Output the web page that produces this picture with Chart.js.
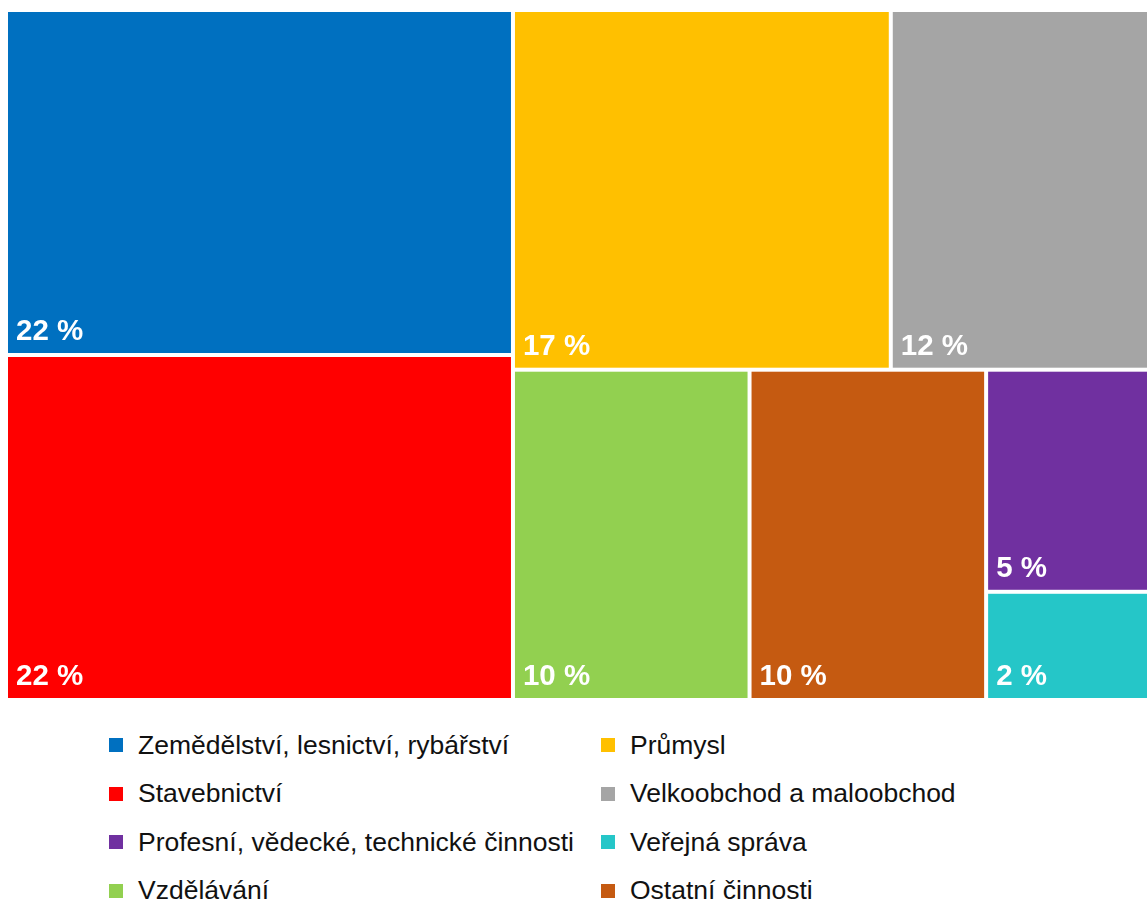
<!DOCTYPE html>
<html lang="cs">
<head>
<meta charset="utf-8">
<script src="https://cdn.jsdelivr.net/npm/chart.js@4.4.1/dist/chart.umd.min.js"></script>
<style>
  body { margin: 0; background: #fff; font-family: "Liberation Sans", Arial, sans-serif; }
  #wrap { position: absolute; left: 0; top: 0; width: 1147px; height: 710px; }
  #legend {
    position: absolute; left: 109px; top: 721px;
    display: grid; grid-template-columns: 492px auto; grid-auto-rows: 48.5px;
    font-size: 26.5px; color: #111;
  }
  .item { display: flex; align-items: center; white-space: nowrap; }
  .box { width: 14px; height: 14px; margin-right: 15px; flex: none; }
</style>
</head>
<body>
<div id="wrap"><canvas id="treemap"></canvas></div>
<div id="legend"></div>
<script>
// =========================
// DATA
// =========================
const categories = [
  "Zemědělství, lesnictví, rybářství",
  "Stavebnictví",
  "Průmysl",
  "Velkoobchod a maloobchod",
  "Vzdělávání",
  "Ostatní činnosti",
  "Profesní, vědecké, technické činnosti",
  "Veřejná správa",
];
const shares = [22.3, 22.3, 17.4, 11.8, 10.0, 10.0, 4.6, 2.2];
const colors = ["#0070C0", "#FF0000", "#FFC000", "#A5A5A5", "#92D050", "#C55A11", "#7030A0", "#25C6C8"];
// legend is read row by row, two columns
const legendOrder = [0, 2, 1, 3, 6, 7, 4, 5];

const GAP = 4;

// =========================
// SQUARIFY LAYOUT (unit square, ratios in pixels)
// =========================
function squarify(values, W, H) {
  const total = values.reduce((s, v) => s + v, 0);
  let items = values
    .map((v, i) => ({ i, a: v / total }))
    .sort((p, q) => q.a - p.a);
  let r = { x: 0, y: 0, w: 1, h: 1 };
  const out = [];

  while (items.length) {
    const vertical = r.w * W >= r.h * H;
    const side = vertical ? r.h * H : r.w * W;
    const worst = (row) => {
      const s = row.reduce((t, it) => t + it.a, 0) * W * H;
      const thick = s / side;
      return Math.max(...row.map((it) => {
        const len = (it.a * W * H) / thick;
        return Math.max(thick / len, len / thick);
      }));
    };

    const row = [items[0]];
    let k = 1;
    while (k < items.length && worst([...row, items[k]]) <= worst(row)) {
      row.push(items[k]);
      k++;
    }

    const rowArea = row.reduce((t, it) => t + it.a, 0);
    if (vertical) {
      const cw = rowArea / r.h;
      let y = r.y;
      row.forEach((it) => {
        const h = it.a / cw;
        out.push({ i: it.i, x: r.x, y, w: cw, h });
        y += h;
      });
      r = { x: r.x + cw, y: r.y, w: r.w - cw, h: r.h };
    } else {
      const rh = rowArea / r.w;
      let x = r.x;
      row.forEach((it) => {
        const w = it.a / rh;
        out.push({ i: it.i, x, y: r.y, w, h: rh });
        x += w;
      });
      r = { x: r.x, y: r.y + rh, w: r.w, h: r.h - rh };
    }
    items = items.slice(k);
  }
  return out;
}

const treemapPlugin = {
  id: "treemap",
  afterDatasetsDraw(chart) {
    const { ctx, chartArea, scales } = chart;
    const cells = squarify(shares, chartArea.width, chartArea.height);
    const eps = 1e-6;
    ctx.save();
    cells.forEach((c) => {
      let x1 = scales.x.getPixelForValue(c.x);
      let x2 = scales.x.getPixelForValue(c.x + c.w);
      let y1 = scales.y.getPixelForValue(c.y);
      let y2 = scales.y.getPixelForValue(c.y + c.h);
      if (c.x > eps) x1 += GAP / 2;
      if (c.x + c.w < 1 - eps) x2 -= GAP / 2;
      if (c.y > eps) y1 += GAP / 2;
      if (c.y + c.h < 1 - eps) y2 -= GAP / 2;

      ctx.fillStyle = colors[c.i];
      ctx.fillRect(x1, y1, x2 - x1, y2 - y1);

      ctx.fillStyle = "#fff";
      ctx.font = "bold 29.5px 'Liberation Sans', Arial, sans-serif";
      ctx.textAlign = "left";
      ctx.textBaseline = "alphabetic";
      ctx.fillText(Math.round(shares[c.i]) + " %", x1 + 8, y2 - 13);
    });
    ctx.restore();
  },
};

new Chart(document.getElementById("treemap"), {
  type: "scatter",
  data: { datasets: [] },
  options: {
    responsive: true,
    maintainAspectRatio: false,
    animation: false,
    layout: { padding: { left: 8, top: 12, right: 0, bottom: 12 } },
    plugins: { legend: { display: false }, tooltip: { enabled: false } },
    scales: {
      x: { type: "linear", min: 0, max: 1, display: false },
      y: { type: "linear", min: 0, max: 1, reverse: true, display: false },
    },
  },
  plugins: [treemapPlugin],
});

// =========================
// LEGEND
// =========================
const legendEl = document.getElementById("legend");
legendOrder.forEach((idx) => {
  const item = document.createElement("div");
  item.className = "item";
  const box = document.createElement("span");
  box.className = "box";
  box.style.background = colors[idx];
  const txt = document.createElement("span");
  txt.textContent = categories[idx];
  item.appendChild(box);
  item.appendChild(txt);
  legendEl.appendChild(item);
});
</script>
</body>
</html>
